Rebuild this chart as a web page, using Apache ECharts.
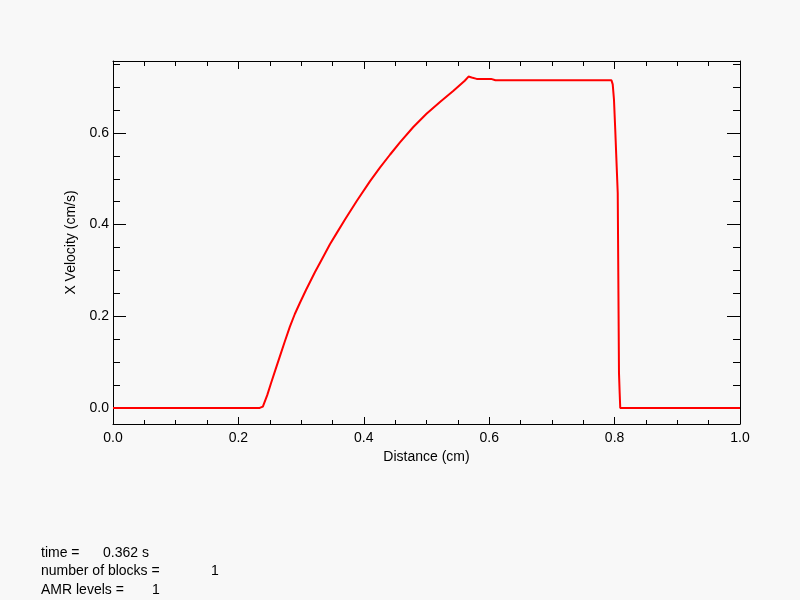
<!DOCTYPE html>
<html>
<head>
<meta charset="utf-8">
<script src="https://cdn.jsdelivr.net/npm/echarts@6/dist/echarts.min.js"></script>
<style>
html,body{margin:0;padding:0;background:#f8f8f8;}
#chart{width:800px;height:600px;}
</style>
</head>
<body>
<div id="chart"></div>
<script>
// Data
const distance = [0, 0.234, 0.239, 0.246, 0.252, 0.259, 0.266, 0.274, 0.282, 0.290, 0.298, 0.308, 0.322, 0.333, 0.346, 0.357, 0.370, 0.389, 0.410, 0.426, 0.442, 0.458, 0.479, 0.500, 0.522, 0.543, 0.561, 0.567, 0.572, 0.580, 0.603, 0.610, 0.795, 0.797, 0.799, 0.801, 0.803, 0.805, 0.807, 0.808, 0.809, 1.0];
const xVelocity = [0, 0, 0.003, 0.028, 0.054, 0.083, 0.112, 0.145, 0.177, 0.205, 0.229, 0.258, 0.296, 0.324, 0.357, 0.382, 0.411, 0.452, 0.495, 0.525, 0.553, 0.580, 0.613, 0.642, 0.668, 0.692, 0.714, 0.723, 0.721, 0.718, 0.718, 0.715, 0.715, 0.706, 0.673, 0.608, 0.538, 0.469, 0.076, 0.036, 0.0, 0];
const xTitle = 'Distance (cm)';
const yTitle = 'X Velocity (cm/s)';
const infoLabels = ['time =', 'number of blocks =', 'AMR levels ='];
const infoValues = ['0.362 s', '1', '1'];

const FONT = 'Liberation Sans, Arial, sans-serif';
const FS = 14;
const black = '#000';
const chart = echarts.init(document.getElementById('chart'), null, {renderer: 'canvas'});

const pts = distance.map((d, i) => [d, xVelocity[i]]);

const baseY = {
  type: 'value', min: -0.035, max: 0.757, splitNumber: 4,
  axisLine: {show: true, onZero: false, lineStyle: {color: black, width: 1}},
  splitLine: {show: false},
  minorTick: {show: true, splitNumber: 4, length: 7, lineStyle: {color: black}},
  axisTick: {show: true, inside: true, length: 13, lineStyle: {color: black}},
};

const infoGraphics = [];
const infoY = [546, 564, 583];
const valueX = [103, 211, 152];
infoLabels.forEach((t, i) => {
  infoGraphics.push({type: 'text', left: 41, top: infoY[i], style: {text: t, font: FS + 'px ' + FONT, fill: black}});
  infoGraphics.push({type: 'text', left: valueX[i], top: infoY[i], style: {text: infoValues[i], font: FS + 'px ' + FONT, fill: black}});
});

chart.setOption({
  backgroundColor: '#f8f8f8',
  animation: false,
  grid: {left: 113, top: 61, right: 60, bottom: 176, containLabel: false},
  xAxis: [{
    type: 'value', min: 0, max: 1, interval: 0.2, position: 'bottom',
    name: xTitle, nameLocation: 'middle', nameGap: 25,
    nameTextStyle: {color: black, fontSize: FS, fontFamily: FONT},
    axisLine: {show: true, onZero: false, lineStyle: {color: black, width: 1}},
    axisTick: {show: true, inside: true, length: 7, lineStyle: {color: black}},
    minorTick: {show: true, splitNumber: 4, length: 4, lineStyle: {color: black}},
    splitLine: {show: false},
    axisLabel: {color: black, fontSize: FS, fontFamily: FONT, margin: 7, formatter: v => v.toFixed(1)}
  }, {
    type: 'value', min: 0, max: 1, interval: 0.2, position: 'top',
    axisLine: {show: true, onZero: false, lineStyle: {color: black, width: 1}},
    axisTick: {show: true, inside: true, length: 8, lineStyle: {color: black}},
    minorTick: {show: true, splitNumber: 4, length: 5, lineStyle: {color: black}},
    splitLine: {show: false},
    axisLabel: {show: false}
  }],
  yAxis: [Object.assign({}, baseY, {
    position: 'left',
    name: yTitle, nameLocation: 'middle', nameGap: 30,
    nameTextStyle: {color: black, fontSize: FS, fontFamily: FONT},
    axisLabel: {color: black, fontSize: FS, fontFamily: FONT, margin: 4, showMinLabel: false, showMaxLabel: false,
      formatter: v => (Math.abs(v * 5 - Math.round(v * 5)) < 1e-6 ? v.toFixed(1) : '')}
  }), Object.assign({}, baseY, {
    position: 'right',
    axisLabel: {show: false}
  })],
  series: [{
    type: 'line', xAxisIndex: 0, yAxisIndex: 0, data: pts,
    showSymbol: false, symbol: 'none',
    lineStyle: {color: '#ff0000', width: 2}
  }],
  graphic: infoGraphics
});
</script>
</body>
</html>
